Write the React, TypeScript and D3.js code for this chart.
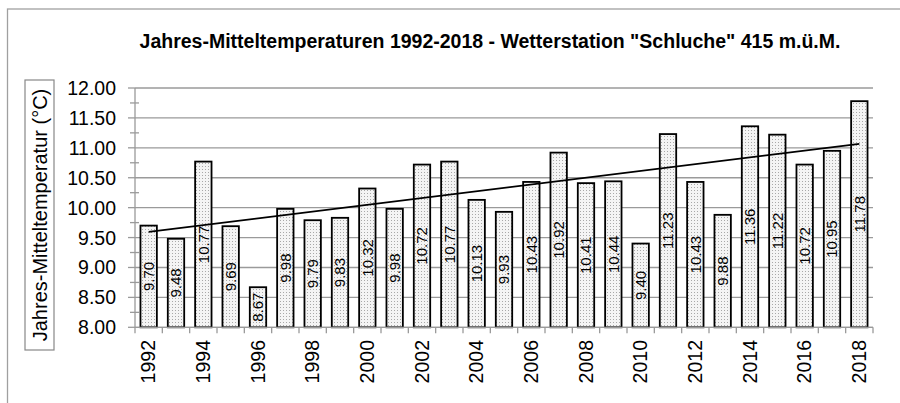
import React from "react";
import * as d3 from "d3";

const years: string[] = [
  "1992","1993","1994","1995","1996","1997","1998","1999","2000","2001","2002","2003","2004","2005",
  "2006","2007","2008","2009","2010","2011","2012","2013","2014","2015","2016","2017","2018",
];
const temps: number[] = [
  9.70, 9.48, 10.77, 9.69, 8.67, 9.98, 9.79, 9.83, 10.32, 9.98, 10.72, 10.77, 10.13, 9.93,
  10.43, 10.92, 10.41, 10.44, 9.40, 11.23, 10.43, 9.88, 11.36, 11.22, 10.72, 10.95, 11.78,
];
const yTicks: number[] = [8, 8.5, 9, 9.5, 10, 10.5, 11, 11.5, 12];
const yMinorTicks: number[] = [8.25, 8.75, 9.25, 9.75, 10.25, 10.75, 11.25, 11.75];
const xLabelYears: string[] = ["1992","1994","1996","1998","2000","2002","2004","2006","2008","2010","2012","2014","2016","2018"];
const title = 'Jahres-Mitteltemperaturen 1992-2018 - Wetterstation "Schluche" 415 m.ü.M.';
const yTitle = "Jahres-Mitteltemperatur (°C)";

export default function App() {
  const W = 900, H = 403;
  const left = 135, right = 873, top = 88, bottom = 327.3;
  const x = d3.scaleBand<string>().domain(years).range([left, right]).paddingInner(0.4).paddingOuter(0.2);
  const xb = d3.scaleBand<string>().domain(years).range([left, right]);
  const y = d3.scaleLinear().domain([8, 12]).range([bottom, top]);

  // linear regression trendline
  const n = temps.length;
  const idx = d3.range(n);
  const mx = d3.mean(idx)!;
  const my = d3.mean(temps)!;
  const slope = d3.sum(idx, (i) => (i - mx) * (temps[i] - my)) / d3.sum(idx, (i) => (i - mx) ** 2);
  const icpt = my - slope * mx;
  const cx = (i: number) => xb(years[i])! + xb.bandwidth() / 2;
  const line = d3.line<number>().x((i) => cx(i)).y((i) => y(icpt + slope * i));

  const font = "'Liberation Sans', Arial, sans-serif";
  const grid = "#9a9a9a";

  return (
    <svg width={W} height={H} style={{ position: "absolute", left: 0, top: 0 }} fontFamily={font}>
      <defs>
        <pattern id="dots" width="3" height="3" patternUnits="userSpaceOnUse">
          <rect width="3" height="3" fill="#f4f4f4" />
          <rect x="1" y="1" width="1" height="1" fill="#a8a8a8" />
        </pattern>
      </defs>
      <rect x={0} y={0} width={W} height={H} fill="#fff" />
      <rect x={7.5} y={9} width={1000} height={500} fill="none" stroke="#a0a0a0" strokeWidth={1.3} />

      <text x={490} y={48} textAnchor="middle" fontWeight="bold" fontSize={19.5}>{title}</text>

      {/* y axis title box */}
      <rect x={25} y={80} width={29} height={270} fill="none" stroke="#888" strokeWidth={1.2} />
      <text transform={`translate(40,${215}) rotate(-90)`} textAnchor="middle" dy="0.35em" fontSize={20}>{yTitle}</text>

      {/* gridlines */}
      {yTicks.map((t) => (
        <line key={"g" + t} x1={left} x2={right} y1={y(t)} y2={y(t)} stroke={grid} strokeWidth={1.3} />
      ))}
      {/* y axis */}
      <line x1={left} x2={left} y1={top} y2={bottom} stroke={grid} strokeWidth={1.3} />
      {yTicks.map((t) => (
        <g key={"yt" + t}>
          <line x1={left - 7} x2={left} y1={y(t)} y2={y(t)} stroke={grid} strokeWidth={1.3} />
          <text x={116} y={y(t)} dy="0.36em" textAnchor="end" fontSize={19.5}>{t.toFixed(2)}</text>
        </g>
      ))}
      {yMinorTicks.map((t) => (
        <line key={"ym" + t} x1={left - 5} x2={left + 4} y1={y(t)} y2={y(t)} stroke={grid} strokeWidth={1.3} />
      ))}

      {/* bars */}
      {years.map((yr, i) => (
        <rect key={"b" + yr} x={x(yr)} y={y(temps[i])} width={x.bandwidth()} height={bottom - y(temps[i])}
          fill="url(#dots)" stroke="#000" strokeWidth={1.8} />
      ))}

      {/* x axis */}
      <line x1={left} x2={right} y1={bottom} y2={bottom} stroke={grid} strokeWidth={1.3} />
      {years.concat(["end"]).map((yr, i) => {
        const xx = left + i * xb.step();
        return <line key={"xt" + i} x1={xx} x2={xx} y1={bottom} y2={bottom + 6} stroke={grid} strokeWidth={1.3} />;
      })}
      {xLabelYears.map((yr) => {
        const xx = xb(yr)! + xb.bandwidth() / 2;
        return (
          <text key={"xl" + yr} transform={`translate(${xx},${340}) rotate(-90)`} textAnchor="end" dy="0.35em" fontSize={19.5}>{yr}</text>
        );
      })}

      {/* trendline */}
      <path d={line([0, n - 1]) || ""} fill="none" stroke="#000" strokeWidth={1.8} />

      {/* value labels */}
      {years.map((yr, i) => {
        const xx = xb(yr)! + xb.bandwidth() / 2;
        const yy = (y(temps[i]) + bottom) / 2;
        return (
          <text key={"v" + yr} transform={`translate(${xx},${yy}) rotate(-90)`} textAnchor="middle" dy="0.35em" fontSize={15}>{temps[i].toFixed(2)}</text>
        );
      })}
    </svg>
  );
}
